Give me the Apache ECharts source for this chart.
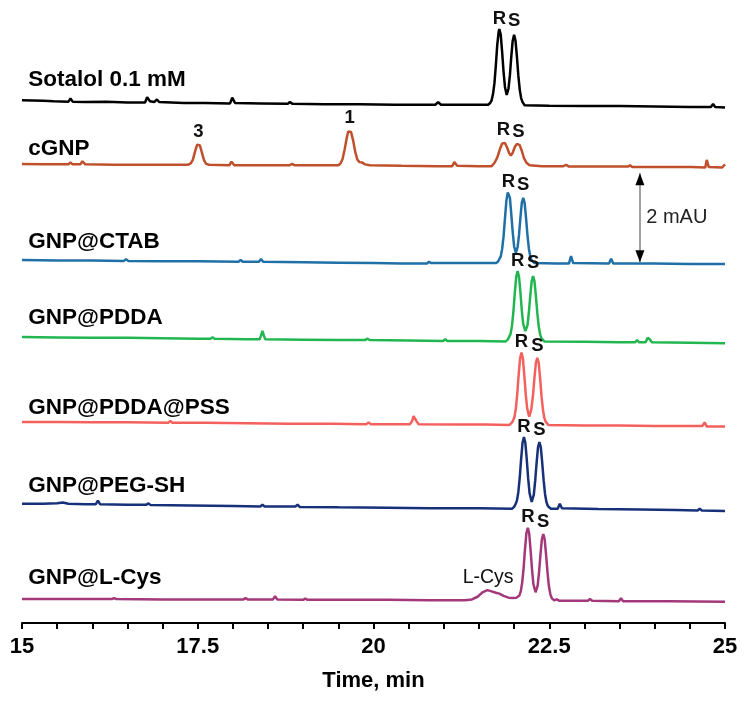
<!DOCTYPE html>
<html>
<head>
<meta charset="utf-8">
<script src="https://cdn.jsdelivr.net/npm/echarts/dist/echarts.min.js"></script>
<style>
html, body { margin: 0; background: #fff; }
#chart { width: 746px; height: 702px; }
</style>
</head>
<body>
<div id="chart"></div>
<script>
// trace names (top to bottom) and baseline offsets in mAU
var names = ['Sotalol 0.1 mM', 'cGNP', 'GNP@CTAB', 'GNP@PDDA', 'GNP@PDDA@PSS', 'GNP@PEG-SH', 'GNP@L-Cys'];
var offsets = [11.67, 10.29, 8.11, 6.36, 4.48, 2.61, 0.52];

// [time (min), signal above baseline (mAU)]
var sotalol = [[15.00,0.08],[15.30,0.07],[15.45,0.06],[15.66,0.05],[15.69,0.12],[15.72,0.05],[15.90,0.04],[16.20,0.05],[16.50,0.03],[16.75,0.03],[16.78,0.15],[16.82,0.06],[16.88,0.04],[16.92,0.10],[16.95,0.04],[17.30,0.02],[17.60,0.02],[17.96,0.01],[17.99,0.14],[18.03,0.02],[18.40,0.01],[18.78,0.00],[18.81,0.04],[18.85,0.00],[19.30,-0.01],[19.80,-0.01],[20.30,-0.02],[20.88,-0.02],[20.92,0.04],[20.96,-0.02],[21.30,-0.02],[21.63,-0.02],[21.66,0.02],[21.68,0.08],[21.70,0.22],[21.72,0.46],[21.74,0.86],[21.76,1.32],[21.78,1.62],[21.79,1.68],[21.81,1.55],[21.83,1.16],[21.85,0.72],[21.87,0.38],[21.895,0.20],[21.92,0.34],[21.94,0.64],[21.96,1.06],[21.98,1.42],[22.00,1.55],[22.02,1.42],[22.04,1.06],[22.06,0.64],[22.08,0.32],[22.10,0.13],[22.12,0.04],[22.15,-0.03],[22.50,-0.04],[23.00,-0.05],[23.50,-0.05],[24.00,-0.06],[24.50,-0.07],[24.80,-0.07],[24.83,0.00],[24.86,-0.07],[25.00,-0.08]];
var cgnp = [[15.00,0.03],[15.30,0.02],[15.66,0.02],[15.69,0.06],[15.72,0.02],[15.83,0.02],[15.86,0.09],[15.90,0.02],[16.30,0.01],[16.80,0.01],[17.20,0.01],[17.36,0.01],[17.40,0.04],[17.43,0.12],[17.46,0.30],[17.49,0.46],[17.51,0.49],[17.53,0.45],[17.56,0.28],[17.59,0.11],[17.62,0.03],[17.66,0.01],[17.95,0.00],[17.98,0.08],[18.02,0.00],[18.40,0.00],[18.81,0.00],[18.84,0.03],[18.88,0.00],[19.30,0.00],[19.50,0.00],[19.53,0.04],[19.56,0.14],[19.59,0.36],[19.62,0.62],[19.64,0.76],[19.66,0.79],[19.68,0.75],[19.71,0.56],[19.74,0.30],[19.77,0.13],[19.80,0.07],[19.84,0.06],[19.88,0.02],[19.95,0.00],[20.40,-0.01],[20.90,-0.02],[21.12,-0.02],[21.15,0.07],[21.19,-0.01],[21.50,-0.02],[21.68,-0.02],[21.72,0.05],[21.76,0.17],[21.80,0.37],[21.83,0.49],[21.85,0.52],[21.87,0.50],[21.90,0.40],[21.93,0.27],[21.955,0.22],[21.98,0.28],[22.01,0.41],[22.04,0.48],[22.06,0.49],[22.08,0.45],[22.11,0.32],[22.14,0.16],[22.18,0.05],[22.22,0.00],[22.40,-0.02],[22.70,-0.02],[22.74,0.01],[22.78,-0.03],[23.30,-0.03],[23.62,-0.03],[23.65,0.00],[23.68,-0.04],[24.20,-0.04],[24.48,-0.04],[24.50,-0.01],[24.52,-0.04],[24.72,-0.05],[24.74,0.12],[24.77,-0.04],[24.96,-0.05],[25.00,0.02]];
var ctab = [[15.00,0.05],[15.50,0.04],[16.00,0.04],[16.45,0.03],[16.48,0.07],[16.51,0.03],[17.00,0.02],[17.50,0.02],[18.08,0.01],[18.11,0.05],[18.14,0.01],[18.37,0.01],[18.40,0.07],[18.43,0.01],[19.00,0.00],[19.50,-0.01],[20.00,-0.02],[20.40,-0.03],[20.76,-0.03],[20.79,0.01],[20.82,-0.02],[21.30,-0.02],[21.74,-0.02],[21.77,0.01],[21.79,0.05],[21.81,0.13],[21.83,0.30],[21.85,0.58],[21.87,0.98],[21.89,1.38],[21.91,1.57],[21.92,1.58],[21.94,1.45],[21.96,1.08],[21.98,0.68],[22.00,0.36],[22.025,0.21],[22.05,0.34],[22.07,0.62],[22.09,1.00],[22.11,1.34],[22.13,1.45],[22.15,1.33],[22.17,0.99],[22.19,0.61],[22.21,0.31],[22.23,0.13],[22.25,0.04],[22.29,-0.02],[22.60,-0.03],[22.78,-0.03],[22.81,0.14],[22.84,-0.02],[23.35,-0.03],[23.38,0.08],[23.41,-0.03],[24.00,-0.03],[24.50,-0.04],[25.00,-0.04]];
var pdda = [[15.00,0.07],[15.50,0.06],[16.00,0.05],[16.50,0.05],[17.00,0.04],[17.50,0.03],[17.68,0.03],[17.71,0.06],[17.74,0.03],[18.20,0.02],[18.38,0.02],[18.40,0.10],[18.42,0.21],[18.44,0.10],[18.46,0.02],[19.00,0.01],[19.50,0.00],[19.88,0.00],[19.91,0.03],[19.95,0.00],[20.50,-0.01],[20.99,-0.02],[21.02,0.02],[21.05,-0.02],[21.50,-0.02],[21.88,-0.03],[21.91,0.01],[21.93,0.05],[21.95,0.14],[21.97,0.32],[21.99,0.64],[22.01,1.06],[22.03,1.42],[22.05,1.55],[22.07,1.42],[22.09,1.07],[22.11,0.66],[22.13,0.36],[22.16,0.20],[22.19,0.33],[22.21,0.62],[22.23,1.00],[22.25,1.32],[22.27,1.44],[22.29,1.32],[22.31,0.99],[22.33,0.61],[22.35,0.31],[22.37,0.13],[22.39,0.04],[22.43,-0.03],[23.00,-0.04],[23.50,-0.05],[23.72,-0.05],[23.75,0.00],[23.78,-0.05],[23.87,-0.05],[23.90,0.05],[23.93,0.02],[23.96,-0.05],[24.50,-0.06],[25.00,-0.07]];
var pss = [[15.00,0.04],[15.50,0.04],[16.00,0.03],[16.50,0.03],[17.08,0.02],[17.11,0.06],[17.14,0.02],[17.60,0.02],[18.20,0.01],[18.80,0.00],[19.40,0.00],[19.90,-0.01],[19.93,0.03],[19.96,-0.01],[20.30,-0.01],[20.52,-0.01],[20.55,0.06],[20.57,0.17],[20.59,0.12],[20.61,0.06],[20.64,-0.01],[21.20,-0.02],[21.60,-0.02],[21.93,-0.03],[21.965,0.02],[21.985,0.07],[22.005,0.15],[22.025,0.34],[22.045,0.67],[22.065,1.10],[22.085,1.47],[22.105,1.60],[22.125,1.47],[22.145,1.10],[22.165,0.67],[22.185,0.35],[22.215,0.16],[22.245,0.32],[22.27,0.66],[22.29,1.04],[22.31,1.37],[22.33,1.48],[22.35,1.37],[22.37,1.02],[22.39,0.62],[22.41,0.32],[22.43,0.13],[22.45,0.04],[22.49,-0.03],[23.00,-0.04],[23.50,-0.04],[24.00,-0.05],[24.68,-0.05],[24.71,0.03],[24.74,-0.06],[25.00,-0.06]];
var peg = [[15.00,0.07],[15.30,0.07],[15.50,0.08],[15.58,0.10],[15.66,0.07],[15.90,0.06],[16.05,0.06],[16.08,0.14],[16.11,0.06],[16.50,0.05],[16.77,0.05],[16.80,0.08],[16.83,0.04],[17.40,0.03],[18.00,0.02],[18.39,0.01],[18.42,0.05],[18.45,0.01],[18.89,0.01],[18.92,0.05],[18.95,0.00],[19.50,-0.01],[20.20,-0.02],[20.80,-0.03],[21.50,-0.03],[21.97,-0.04],[22.00,0.00],[22.02,0.06],[22.04,0.14],[22.06,0.33],[22.08,0.65],[22.10,1.08],[22.12,1.44],[22.14,1.57],[22.16,1.44],[22.18,1.07],[22.20,0.64],[22.22,0.31],[22.25,0.11],[22.28,0.27],[22.30,0.59],[22.32,0.99],[22.34,1.34],[22.36,1.46],[22.38,1.34],[22.40,0.99],[22.42,0.60],[22.44,0.29],[22.46,0.11],[22.48,0.02],[22.52,-0.04],[22.62,-0.04],[22.65,0.07],[22.68,-0.03],[23.20,-0.05],[23.80,-0.06],[24.30,-0.07],[24.61,-0.08],[24.64,-0.04],[24.67,-0.08],[25.00,-0.09]];
var lcys = [[15.00,0.02],[15.50,0.02],[16.00,0.02],[16.28,0.02],[16.31,0.04],[16.34,0.02],[17.00,0.01],[17.60,0.01],[18.15,0.01],[18.18,0.04],[18.21,0.01],[18.57,0.01],[18.60,0.08],[18.63,0.01],[19.00,0.00],[19.03,0.03],[19.06,0.00],[19.60,0.00],[20.20,0.00],[20.80,-0.01],[21.30,-0.01],[21.40,0.01],[21.48,0.07],[21.55,0.17],[21.62,0.22],[21.68,0.19],[21.74,0.16],[21.79,0.14],[21.85,0.09],[21.92,0.05],[21.98,0.04],[22.035,0.05],[22.075,0.10],[22.095,0.19],[22.115,0.39],[22.135,0.71],[22.155,1.14],[22.175,1.50],[22.195,1.62],[22.215,1.49],[22.235,1.11],[22.255,0.68],[22.275,0.35],[22.305,0.17],[22.335,0.32],[22.355,0.62],[22.375,1.02],[22.395,1.36],[22.415,1.48],[22.435,1.36],[22.455,1.01],[22.475,0.62],[22.495,0.31],[22.515,0.13],[22.535,0.04],[22.57,-0.01],[22.61,0.01],[22.64,-0.02],[23.05,-0.02],[23.08,0.02],[23.11,-0.02],[23.49,-0.03],[23.52,0.04],[23.55,-0.03],[24.20,-0.03],[25.00,-0.04]];

// peak tags: [trace index, text, time, height above baseline]
var peakTags = [
	[0,'R',21.79,1.68],[0,'S',22.00,1.62],
	[1,'3',17.51,0.52],[1,'1',19.66,0.82],[1,'R',21.85,0.55],[1,'S',22.06,0.52],
	[2,'R',21.92,1.58],[2,'S',22.13,1.50],
	[3,'R',22.05,1.55],[3,'S',22.27,1.50],
	[4,'R',22.105,1.60],[4,'S',22.33,1.52],
	[5,'R',22.14,1.57],[5,'S',22.36,1.50],
	[6,'R',22.195,1.62],[6,'S',22.415,1.52]
];
var xTicks = [15, 17.5, 20, 22.5, 25];

var colors = ['#000000', '#c0502c', '#2070a8', '#22b650', '#f4605c', '#17307a', '#a3387a'];
var nameLift = [0.54, 0.37, 0.45, 0.50, 0.36, 0.48, 0.49];
var FONT = '"Liberation Sans", Arial, sans-serif';

var traces = [sotalol, cgnp, ctab, pdda, pss, peg, lcys];

var myChart = echarts.init(document.getElementById('chart'));

var series = traces.map(function(tr, i) {
	var data = tr.map(function(p) { return [p[0], p[1] + offsets[i]]; });
	var marks = [{
		coord: [15.09, offsets[i] + nameLift[i]],
		label: { formatter: names[i], position: 'right', distance: 0, fontSize: 22.5, fontWeight: 'bold', color: '#000' }
	}];
	peakTags.forEach(function(tag) {
		if (tag[0] !== i) return;
		marks.push({
			coord: [tag[2], offsets[i] + tag[3]],
			label: { formatter: tag[1], position: 'top', distance: 1, fontSize: 18.5, fontWeight: 'bold', color: '#111' }
		});
	});
	var s = {
		type: 'line',
		data: data,
		showSymbol: false,
		silent: true,
		lineStyle: { width: 2.5, color: colors[i] },
		itemStyle: { color: colors[i] },
		markPoint: {
			symbol: 'circle',
			symbolSize: 0,
			silent: true,
			animation: false,
			label: { show: true, fontFamily: FONT },
			data: marks
		}
	};
	if (i === 6) {
		s.markPoint.data.push({
			coord: [21.63, offsets[i] + 0.51],
			label: { formatter: 'L-Cys', position: 'inside', fontSize: 19.5, color: '#111' }
		});
	}
	if (i === 2) {
		// 2 mAU scale bar
		s.markLine = {
			silent: true,
			animation: false,
			symbol: ['none', 'none'],
			lineStyle: { color: '#808080', width: 1.5, type: 'solid' },
			label: { show: false },
			data: [[{ coord: [23.79, offsets[i]] }, { coord: [23.79, offsets[i] + 2] }]]
		};
		s.markPoint.data.push({
			coord: [23.79, offsets[i] + 2], symbol: 'triangle', symbolSize: [9, 12], symbolOffset: [0, 6],
			itemStyle: { color: '#000' }, label: { show: false }
		});
		s.markPoint.data.push({
			coord: [23.79, offsets[i]], symbol: 'triangle', symbolSize: [9, 12], symbolRotate: 180, symbolOffset: [0, -6],
			itemStyle: { color: '#000' }, label: { show: false }
		});
		s.markPoint.data.push({
			coord: [23.88, offsets[i] + 1.0],
			label: { formatter: '2 mAU', position: 'right', distance: 0, fontSize: 20, color: '#222' }
		});
	}
	return s;
});

var option = {
	backgroundColor: '#fff',
	animation: false,
	grid: { left: 22, right: 21, top: 18, bottom: 79 },
	xAxis: {
		type: 'value',
		min: 15,
		max: 25,
		interval: 0.5,
		name: 'Time, min',
		nameLocation: 'middle',
		nameGap: 47,
		nameTextStyle: { fontFamily: FONT, fontSize: 22, fontWeight: 'bold', color: '#000' },
		axisLine: { lineStyle: { color: '#000', width: 2 } },
		axisTick: { length: 6, lineStyle: { color: '#000', width: 2 } },
		axisLabel: {
			margin: 13,
			fontFamily: FONT,
			fontSize: 22,
			fontWeight: 'bold',
			color: '#000',
			formatter: function(v) { return xTicks.indexOf(v) >= 0 ? String(v) : ''; }
		},
		splitLine: { show: false }
	},
	yAxis: {
		type: 'value',
		min: 0,
		max: 13.6,
		show: false
	},
	series: series
};

myChart.setOption(option);
</script>
</body>
</html>
